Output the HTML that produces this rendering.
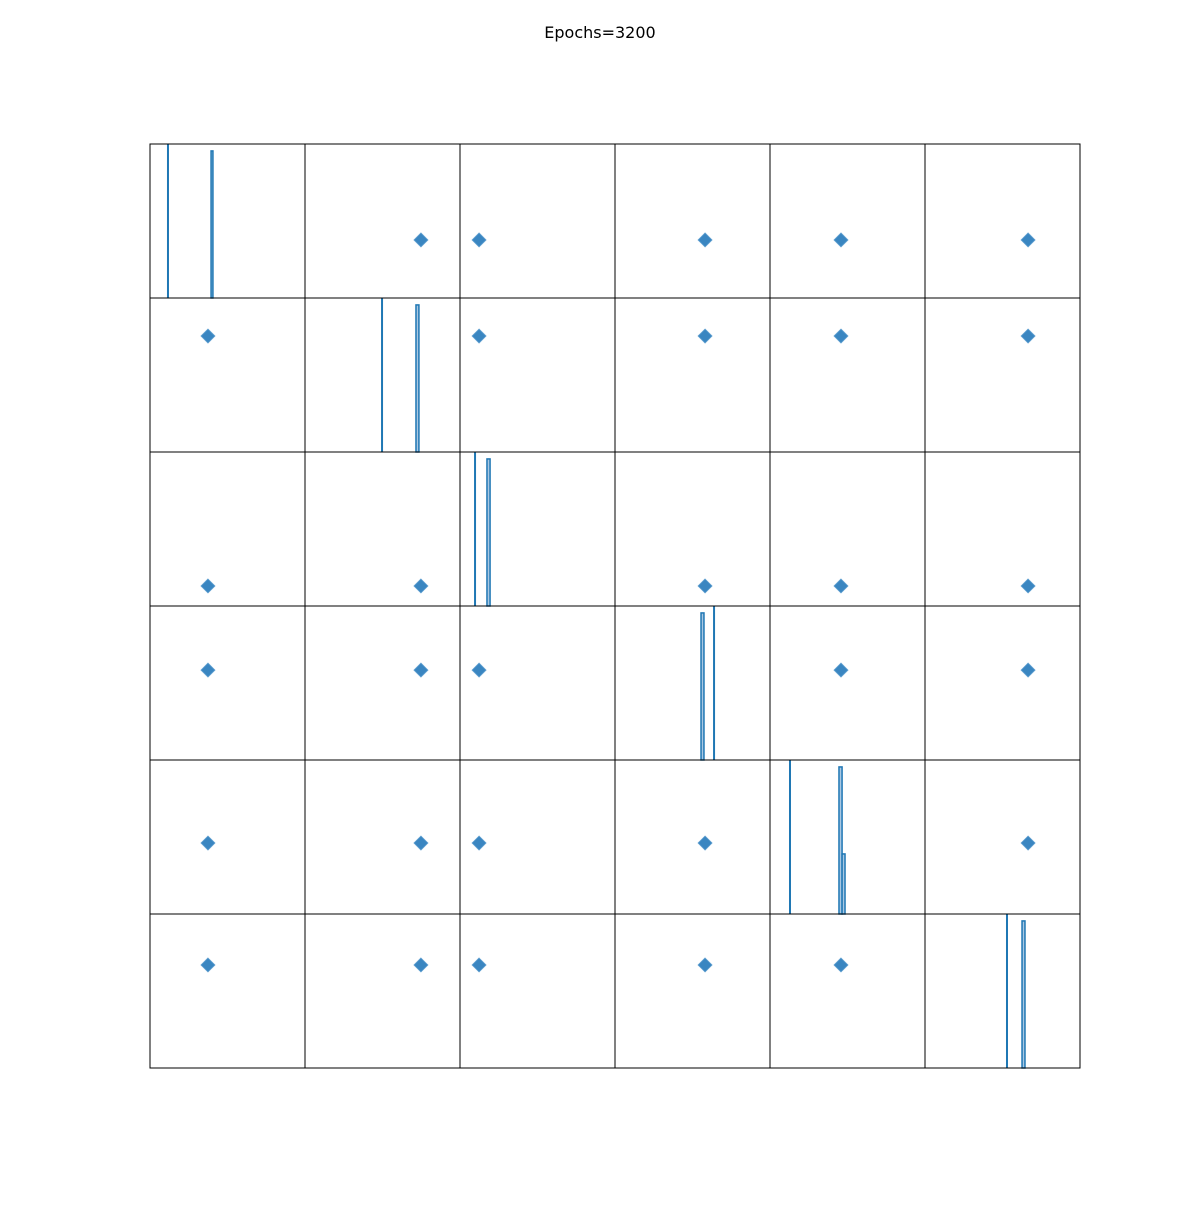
<!DOCTYPE html>
<html><head><meta charset="utf-8"><style>
html,body{margin:0;padding:0;background:#fff;}
svg text{font-family:"DejaVu Sans","Liberation Sans",sans-serif;}
</style></head>
<body>
<svg id="chart" width="1200" height="1200" xmlns="http://www.w3.org/2000/svg">
<rect width="1200" height="1200" fill="#fff"/>
<text x="600" y="38" text-anchor="middle" font-size="16" fill="#000">Epochs=3200</text>
<g id="panels"></g>
</svg>
<script>
// point position (0-1 within panel) per variable: x fraction when variable is on x-axis, y fraction (from top) when on y-axis
const varXFrac = [0.374, 0.748, 0.123, 0.581, 0.458, 0.665];
const varYFrac = [0.623, 0.247, 0.870, 0.416, 0.539, 0.331];
// diagonal vertical reference line positions
const diagLine = [0.116, 0.497, 0.097, 0.639, 0.129, 0.529];
// histogram bins on diagonal: [start, end, height]
const diagHist = [
  [[0.394,0.406,0.955]],
  [[0.716,0.735,0.955]],
  [[0.174,0.194,0.955]],
  [[0.555,0.574,0.955]],
  [[0.445,0.465,0.955],[0.465,0.484,0.39]],
  [[0.626,0.645,0.955]]
];
const N = 6, X0 = 150, Y0 = 144, PW = 155, PH = 154;
const ns = "http://www.w3.org/2000/svg";
const g = document.getElementById('panels');
function mk(tag, attrs){const e=document.createElementNS(ns,tag);for(const k in attrs)e.setAttribute(k,attrs[k]);return e;}
const px = (c,f)=>X0+c*PW+f*PW;
const py = (r,f)=>Y0+r*PH+f*PH;
for(let r=0;r<N;r++){for(let c=0;c<N;c++){
  const pg = mk('g',{});
  
  
  if(r===c){
    diagHist[r].forEach((b,i)=>{
      const x1=px(c,b[0]), x2=px(c,b[1]), yb=py(r,1), yt=py(r,1-b[2]);
      const rect=mk('rect',{x:x1,y:yt,width:x2-x1,height:yb-yt,fill:'#a9c8e3',stroke:'#1f77b4','stroke-width':1.5});
      
      
      pg.appendChild(rect);
    });
    const lx=px(c,diagLine[r]);
    const ln=mk('line',{x1:lx,x2:lx,y1:py(r,0),y2:py(r,1),stroke:'#1f77b4','stroke-width':2});
    
    
    pg.appendChild(ln);
  } else {
    const cx=px(c,varXFrac[c]), cy=py(r,varYFrac[r]), s=7;
    const d=mk('polygon',{points:`${cx},${cy-s} ${cx+s},${cy} ${cx},${cy+s} ${cx-s},${cy}`,fill:'#3a86c1',stroke:'#5f9fd0','stroke-width':0.8});
    
    
    pg.appendChild(d);
  }
  const fr=mk('rect',{x:X0+c*PW,y:Y0+r*PH,width:PW,height:PH,fill:'none',stroke:'#000','stroke-width':1});
  
  
  pg.appendChild(fr);
  g.appendChild(pg);
}}
</script>
</body></html>
